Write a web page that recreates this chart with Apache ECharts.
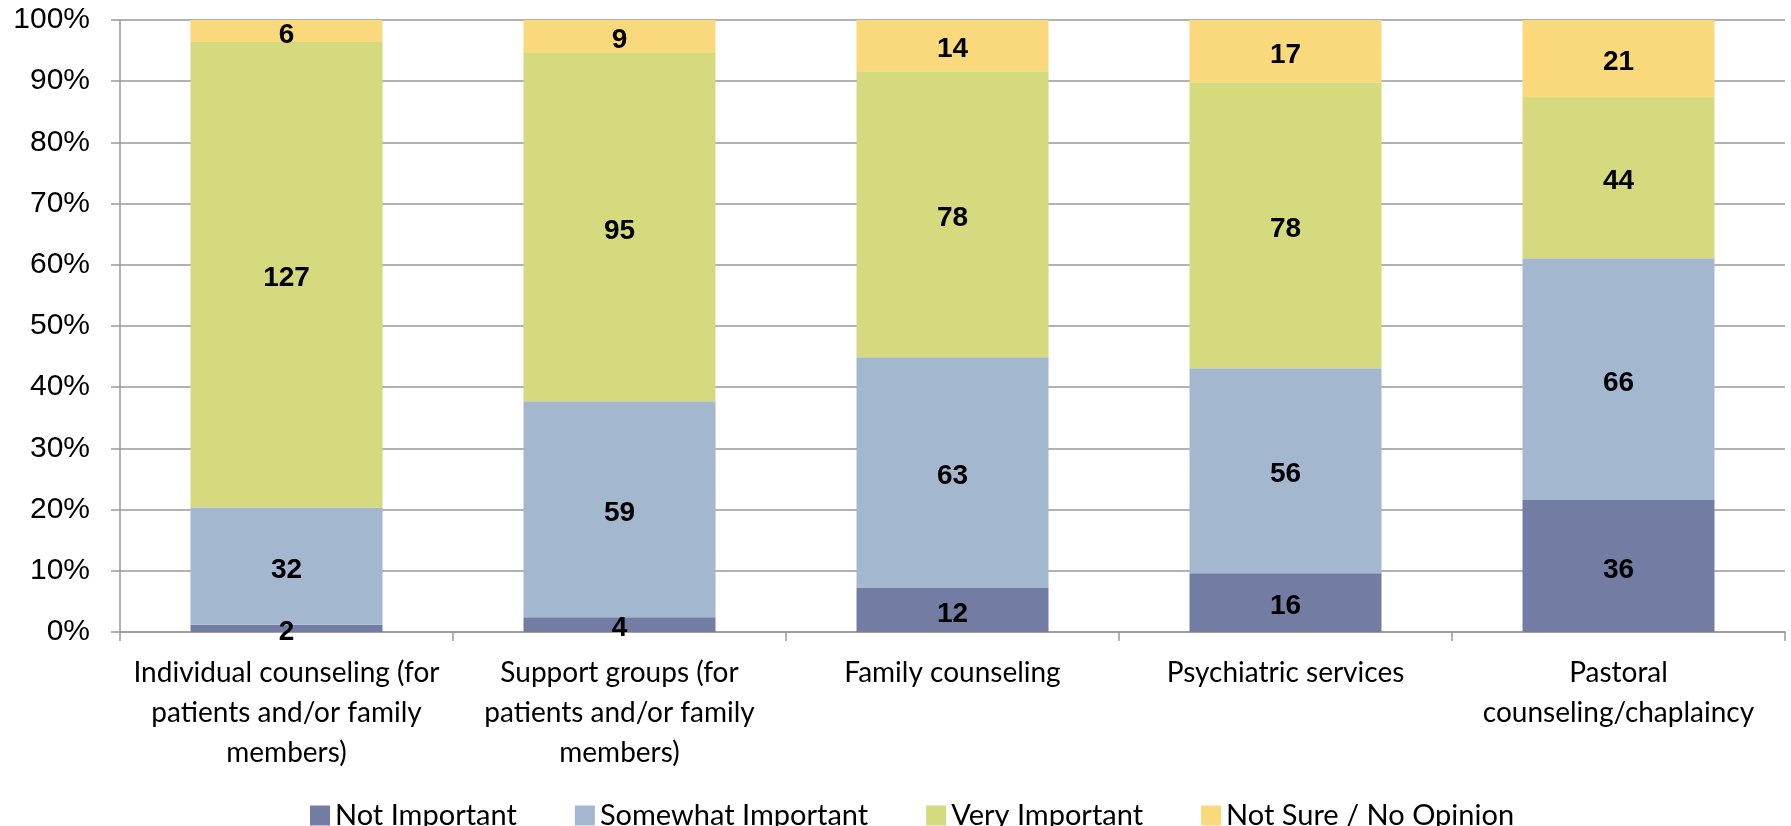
<!DOCTYPE html>
<html>
<head>
<meta charset="utf-8">
<script src="https://cdn.jsdelivr.net/npm/echarts@6/dist/echarts.min.js"></script>
<style>
  html, body { margin: 0; padding: 0; background: #fff; }
  #chart { width: 1791px; height: 826px; }
</style>
</head>
<body>
<div id="chart"></div>
<script>
// Service categories along the x axis
const categories = [
  'Individual counseling (for\npatients and/or family\nmembers)',
  'Support groups (for\npatients and/or family\nmembers)',
  'Family counseling',
  'Psychiatric services',
  'Pastoral\ncounseling/chaplaincy'
];

// Response counts per category
const notImportant      = [2, 4, 12, 16, 36];
const somewhatImportant = [32, 59, 63, 56, 66];
const veryImportant     = [127, 95, 78, 78, 44];
const notSure           = [6, 9, 14, 17, 21];

const seriesNames = ['Not Important', 'Somewhat Important', 'Very Important', 'Not Sure / No Opinion'];
const seriesColors = ['#737ca3', '#a3b8cf', '#d4da7d', '#f9d97c'];

const yTicks = [0, 10, 20, 30, 40, 50, 60, 70, 80, 90, 100];

const counts = [notImportant, somewhatImportant, veryImportant, notSure];
const totals = categories.map((_, i) => counts.reduce((s, arr) => s + arr[i], 0));

const chart = echarts.init(document.getElementById('chart'), null, { renderer: 'canvas' });

// 100% stacked bars: each segment is its share of the category total,
// labelled with the raw count
const series = counts.map((arr, k) => ({
  name: seriesNames[k],
  type: 'bar',
  stack: 'total',
  barWidth: 192,
  itemStyle: { color: seriesColors[k] },
  label: {
    show: true,
    position: 'inside',
    offset: [0, 4],
    formatter: p => String(arr[p.dataIndex]),
    fontFamily: 'Liberation Sans, Arial, sans-serif',
    fontWeight: 'bold',
    fontSize: 28,
    color: '#000'
  },
  data: arr.map((v, i) => v / totals[i] * 100)
}));

chart.setOption({
  animation: false,
  backgroundColor: '#fff',
  grid: { left: 120, right: 6, top: 20, bottom: 194, containLabel: false },
  legend: {
    left: 305,
    top: 796,
    itemWidth: 20,
    itemHeight: 20,
    itemGap: 58,
    icon: 'rect',
    textStyle: { fontFamily: 'Lato, sans-serif', fontSize: 29, color: '#000' },
    data: seriesNames
  },
  xAxis: {
    type: 'category',
    data: categories,
    axisLine: { lineStyle: { color: '#999', width: 1.5 } },
    axisTick: { show: true, length: 9, lineStyle: { color: '#999', width: 1.5 } },
    axisLabel: {
      interval: 0,
      margin: 21,
      fontFamily: 'Lato, sans-serif',
      fontSize: 28,
      lineHeight: 40,
      color: '#000',
      align: 'center'
    }
  },
  yAxis: {
    type: 'value',
    min: yTicks[0],
    max: yTicks[yTicks.length - 1],
    interval: 10,
    axisLine: { show: true, lineStyle: { color: '#999', width: 1.5 } },
    axisTick: { show: true, length: 9, lineStyle: { color: '#999', width: 1.5 } },
    splitLine: { show: true, lineStyle: { color: '#999', width: 1.5 } },
    axisLabel: {
      margin: 30,
      formatter: '{value}%',
      fontFamily: 'Liberation Sans, Arial, sans-serif',
      fontSize: 30,
      color: '#000'
    }
  },
  series: series
});
</script>
</body>
</html>
